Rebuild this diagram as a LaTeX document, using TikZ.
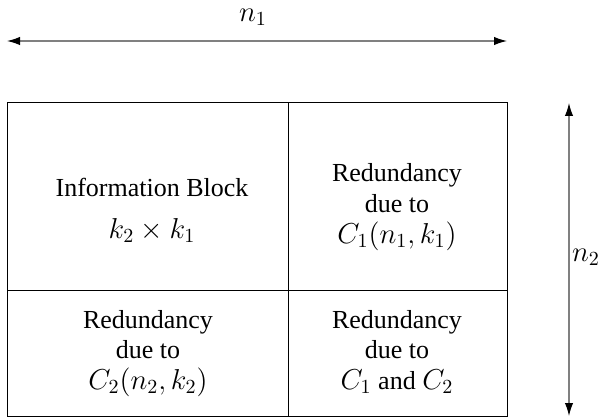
\documentclass[tikz,border=0pt]{standalone}
\usepackage{fontspec}
\setmainfont{LiberationSerif}[Extension=.ttf,UprightFont=*-Regular,BoldFont=*-Bold,ItalicFont=*-Italic,BoldItalicFont=*-BoldItalic]
\usetikzlibrary{arrows.meta}
\newcommand{\mth}[1]{{\fontsize{14.5}{16}\selectfont$#1$}}
\begin{document}
\begin{tikzpicture}[x=0.5pt,y=-0.5pt,
  cell/.style={draw=black,line width=0.5pt,inner sep=0pt},
  ln/.style={font=\fontsize{13}{15}\selectfont,anchor=base,inner sep=0pt},
  dim/.style={draw=black!50,line width=0.6pt,{Latex[length=6.5pt,width=4.2pt,black]}-{Latex[length=6.5pt,width=4.2pt,black]}},
  lbl/.style={inner sep=0pt}]
\useasboundingbox (0,0) rectangle (600,417);
% cells
\node[cell,minimum width=140.5pt,minimum height=93.5pt] (c1) at (147.5,196.5) {};
\node[cell,minimum width=109.5pt,minimum height=93.5pt] (c2) at (397.5,196.5) {};
\node[cell,minimum width=140.5pt,minimum height=63pt] (c3) at (147.5,353) {};
\node[cell,minimum width=109.5pt,minimum height=63pt] (c4) at (397.5,353) {};
% texts
\node[ln] (t1a) at (152,197) {Information Block};
\node[ln] (t1b) at (152,238) {\mth{k_2\times k_1}};
\node[ln] (t2a) at (397,182) {Redundancy};
\node[ln] (t2b) at (397,212.5) {due to};
\node[ln] (t2c) at (397,243) {\mth{C_1(n_1,k_1)}};
\node[ln] (t3a) at (148,328) {Redundancy};
\node[ln] (t3b) at (148,358.5) {due to};
\node[ln] (t3c) at (148,389) {\mth{C_2(n_2,k_2)}};
\node[ln] (t4a) at (397,328) {Redundancy};
\node[ln] (t4b) at (397,358.5) {due to};
\node[ln] (t4c) at (397,389) {\mth{C_1} and \mth{C_2}};
% dimension arrows
\coordinate (h1) at (7,41);
\coordinate (h2) at (507,41);
\draw[dim] (h1) -- (h2);
\node[lbl] (n1) at (253,17) {\mth{n_1}};
\coordinate (v1) at (569,103);
\coordinate (v2) at (569,416);
\draw[dim] (v1) -- (v2);
\node[lbl] (n2) at (586,257) {\mth{n_2}};
\end{tikzpicture}
\end{document}
